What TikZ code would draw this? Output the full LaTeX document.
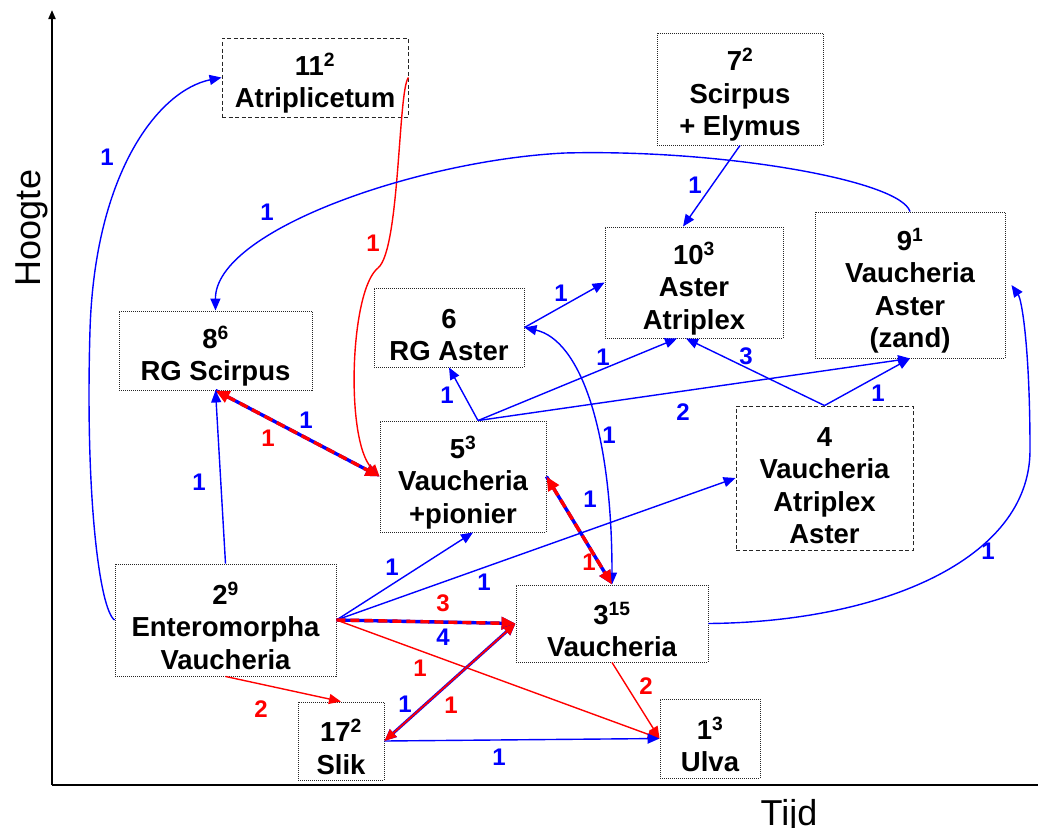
\documentclass[tikz,border=0pt]{standalone}
\usepackage{fontspec}
\setmainfont{Liberation Sans}
\usetikzlibrary{arrows.meta,calc}
\newcommand{\topstrut}{\rule{0pt}{34pt}}
\begin{document}
\begin{tikzpicture}[x=1pt,y=-1pt,
  >={Triangle[length=12pt,width=10pt]},
  boxbase/.style={draw=black!85, line width=0.9pt, align=center, inner sep=0pt,
     font=\fontsize{27.5}{32.5}\selectfont\bfseries},
  dotbox/.style={boxbase, dash pattern=on 1pt off 1pt},
  dashbox/.style={boxbase, dash pattern=on 4pt off 2.5pt},
  bl/.style={line width=1.4pt, draw=blue},
  rd/.style={line width=1.4pt, draw=red},
  dualb/.style={line width=3.4pt, draw=blue, >={Triangle[length=14pt,width=12pt]}},
  dualr/.style={line width=3.4pt, draw=red, dash pattern=on 9pt off 5pt, >={Triangle[length=14pt,width=12pt]}},
  lab/.style={font=\fontsize{24}{24}\selectfont\bfseries, inner sep=0pt},
  axislab/.style={font=\fontsize{36}{36}\selectfont, inner sep=0pt, anchor=base}
  ]
\useasboundingbox (0,0) rectangle (1038,827);

% axes
\coordinate (O) at (52,785);
\coordinate (Ytop) at (52,10);
\coordinate (Xend) at (1040,785);
\draw[line width=2pt, -{Triangle[length=9pt,width=7pt]}] (O) -- (Ytop);
\draw[line width=2pt] (O) -- (Xend);
\node[axislab, rotate=90] (hoogte) at (40,228) {Hoogte};
\node[axislab] (tijd) at (789,825) {Tijd};

% boxes
\node[dashbox, minimum width=186pt, minimum height=79pt] (n11) at (315,77.5) {\topstrut 11\textsuperscript{2}\\Atriplicetum};
\node[dotbox, minimum width=166pt, minimum height=112pt] (n7) at (740,89) {\topstrut 7\textsuperscript{2}\\Scirpus\\+ Elymus};
\node[dotbox, minimum width=178pt, minimum height=111pt] (n10) at (694,282.5) {\topstrut 10\textsuperscript{3}\\Aster\\Atriplex};
\node[dotbox, minimum width=190pt, minimum height=146pt] (n9) at (910,285) {\topstrut 9\textsuperscript{1}\\Vaucheria\\Aster\\(zand)};
\node[dotbox, minimum width=150pt, minimum height=79pt] (n6) at (449,327.5) {\topstrut 6\\RG Aster};
\node[dotbox, minimum width=193pt, minimum height=79pt] (n8) at (215.5,350.5) {\topstrut 8\textsuperscript{6}\\RG Scirpus};
\node[dotbox, minimum width=166pt, minimum height=111pt] (n5) at (463,476.5) {\topstrut 5\textsuperscript{3}\\Vaucheria\\+pionier};
\node[dashbox, minimum width=177pt, minimum height=144pt] (n4) at (824.5,478) {\topstrut 4\\Vaucheria\\Atriplex\\Aster};
\node[dotbox, minimum width=221pt, minimum height=112pt] (n2) at (225.5,620) {\topstrut 2\textsuperscript{9}\\Enteromorpha\\Vaucheria};
\node[dotbox, minimum width=192pt, minimum height=77pt] (n3) at (612,623.5) {\topstrut 3\textsuperscript{15}\\Vaucheria};
\node[dotbox, minimum width=86pt, minimum height=78pt] (n17) at (341,741) {\topstrut 17\textsuperscript{2}\\Slik};
\node[dotbox, minimum width=100pt, minimum height=79pt] (n1) at (710,738.5) {\topstrut 1\textsuperscript{3}\\Ulva};

\coordinate (p5) at ($(n5.north)+(15,0)$);

% curved connectors
\draw[bl,->] (n2.west) .. controls (100,610) and (85,500) .. (90,330) .. controls (95,170) and (160,90) .. (n11.west);
\draw[rd,->] (n11.east) .. controls (398,90) and (400,250) .. (378,268) .. controls (350,290) and (345,440) .. (n5.west);
\draw[bl,->] (n9.north) .. controls (900,180) and (720,149) .. (565,153) .. controls (420,160) and (215,230) .. (n8.north);
\draw[bl,<->] (n3.north) .. controls (612,430) and (580,340) .. (n6.east);
\draw[bl,->] (n3.east) .. controls (880,622) and (1030,560) .. (1030,450) .. controls (1030,350) and (1022,300) .. ($(n9.east)+(6,0)$);

% straight connectors
\draw[bl,->] (n7.south) -- ($(n10.north)+(-11,0)$);
\draw[bl,->] (n6.east) -- (n10.west);
\draw[bl,->] (n2.north) -- (n8.south);
\draw[bl,->] (p5) -- (n6.south);
\draw[bl,->] (p5) -- ($(n10.south)+(-17,0)$);
\draw[bl,->] (p5) -- (n9.south);
\draw[bl,->] (n4.north) -- ($(n10.south)+(-8,0)$);
\draw[bl,->] (n4.north) -- (n9.south);
\draw[bl,->] (n2.east) -- ($(n5.south)+(10,0)$);
\draw[bl,->] (n2.east) -- (n4.west);
\draw[rd,->] (n2.east) -- (n1.west);
\draw[rd,->] (n2.south) -- (n17.north);
\draw[bl,->] (n17.east) -- (n1.west);
\draw[rd,->] (n3.south) -- (n1.west);

% double (red/blue) connectors
\draw[dualb,->] (n8.south) -- (n5.west);
\draw[dualr,<->] (n8.south) -- (n5.west);
\draw[dualb,->] (n5.east) -- (n3.north);
\draw[dualr,<->] (n5.east) -- (n3.north);
\draw[dualb,->] (n2.east) -- (n3.west);
\draw[dualr,->] (n2.east) -- (n3.west);
\draw[bl, line width=3pt, <->] (n17.east) -- (n3.west);
\draw[rd, line width=1.8pt, <->] (n17.east) -- (n3.west);

% labels
\node[lab, text=blue] (t1) at (107,157) {1};
\node[lab, text=red]  (t2) at (373,243) {1};
\node[lab, text=blue] (t3) at (267,212) {1};
\node[lab, text=blue] (t4) at (695,185) {1};
\node[lab, text=blue] (t5) at (561,293) {1};
\node[lab, text=blue] (t6) at (609,435) {1};
\node[lab, text=blue] (t7) at (590,499) {1};
\node[lab, text=red]  (t8) at (589,562) {1};
\node[lab, text=blue] (t9) at (306,420) {1};
\node[lab, text=red]  (t10) at (268,438) {1};
\node[lab, text=blue] (t11) at (199,482) {1};
\node[lab, text=blue] (t12) at (447,395) {1};
\node[lab, text=blue] (t13) at (603,357) {1};
\node[lab, text=blue] (t14) at (683,412) {2};
\node[lab, text=blue] (t15) at (746,356) {3};
\node[lab, text=blue] (t16) at (878,393) {1};
\node[lab, text=blue] (t17) at (988,551) {1};
\node[lab, text=blue] (t18) at (392,567) {1};
\node[lab, text=blue] (t19) at (484,582) {1};
\node[lab, text=red]  (t20) at (443,603) {3};
\node[lab, text=blue] (t21) at (443,637) {4};
\node[lab, text=red]  (t22) at (420,668) {1};
\node[lab, text=red]  (t23) at (261,709) {2};
\node[lab, text=blue] (t24) at (405,704) {1};
\node[lab, text=red]  (t25) at (451,705) {1};
\node[lab, text=blue] (t26) at (499,757) {1};
\node[lab, text=red]  (t27) at (646,686) {2};
\end{tikzpicture}
\end{document}
